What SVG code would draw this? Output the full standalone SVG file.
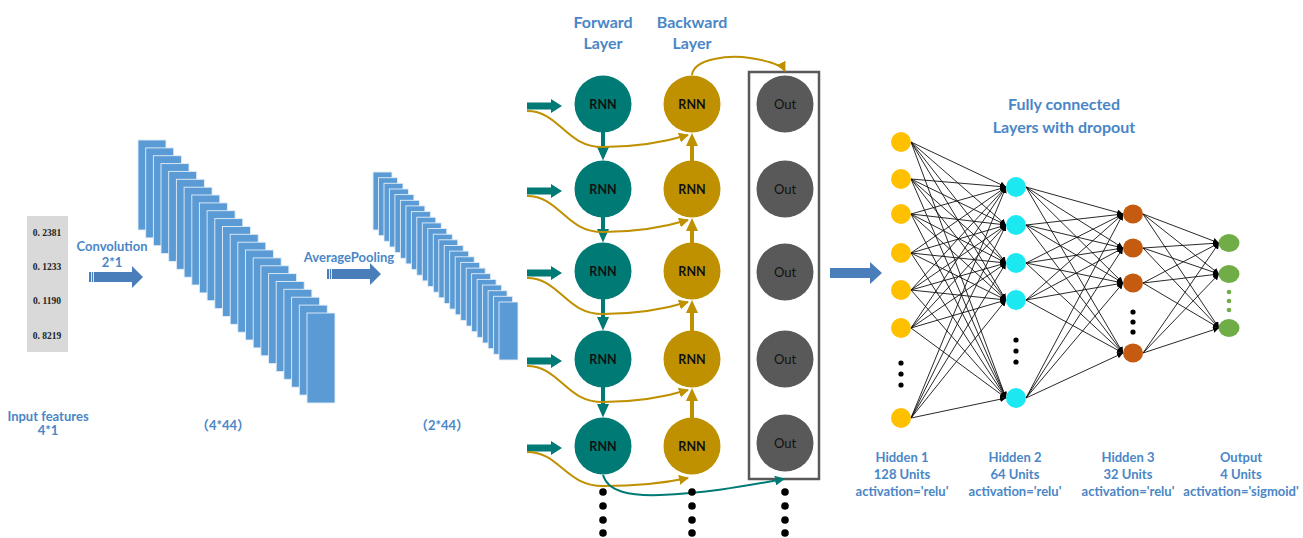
<svg xmlns="http://www.w3.org/2000/svg" width="1303" height="538" viewBox="0 0 1303 538">
<style>
.lbl{font-family:Lato,"Liberation Sans","Noto Sans CJK SC",sans-serif;font-weight:bold;fill:#4A86C6;text-anchor:middle}
.s13{font-size:13px}
.s16{font-size:16px}
.num{font-family:"Liberation Serif",serif;font-weight:bold;font-size:9.5px;fill:#222;text-anchor:middle}
.st{fill:#5B9BD5;stroke:#E3EEF8;stroke-width:0.9}
.barrow{fill:#4A7EBB}
.fw{fill:#007A74}
.bw{fill:#BF9000}
.out{fill:#595959}
.rt{font-family:Lato,"Liberation Sans",sans-serif;font-weight:bold;font-size:12.5px;fill:#111;text-anchor:middle}
.ot{font-family:Lato,"Liberation Sans",sans-serif;font-size:13px;fill:#111;text-anchor:middle}
.gc{fill:none;stroke:#BF9000;stroke-width:2}
.tc{fill:none;stroke:#007A74;stroke-width:2}
.fc line{stroke:#111;stroke-width:0.9;marker-end:url(#ab)}
.dot{fill:#000}
</style>
<defs>
<marker id="ab" viewBox="0 0 10 10" refX="10" refY="5" markerWidth="6" markerHeight="6" orient="auto" markerUnits="userSpaceOnUse"><path d="M0,0 L10,5 L0,10 z" fill="#000"/></marker>
<marker id="ag" viewBox="0 0 10 10" refX="9" refY="5" markerWidth="10" markerHeight="10" orient="auto" markerUnits="userSpaceOnUse"><path d="M0,0 L10,5 L0,10 z" fill="#BF9000"/></marker>
<marker id="at" viewBox="0 0 10 10" refX="9" refY="5" markerWidth="10" markerHeight="10" orient="auto" markerUnits="userSpaceOnUse"><path d="M0,0 L10,5 L0,10 z" fill="#007A74"/></marker>
</defs>
<rect width="1303" height="538" fill="#fff"/>

<!-- Input features -->
<g id="input-features">
<rect x="27" y="216" width="41" height="136" fill="#D9D9D9"/>
<text class="num" x="47" y="236">0. 2381</text>
<text class="num" x="47" y="270">0. 1233</text>
<text class="num" x="47" y="304">0. 1190</text>
<text class="num" x="47" y="339">0. 8219</text>
<text class="lbl s13" x="48" y="421">Input features</text>
<text class="lbl s13" x="48" y="435">4*1</text>
</g>

<g id="convolution-arrow">
<polygon class="barrow" points="89,272 132,272 132,266 143,277 132,288 132,282 89,282"/>
<line x1="91.5" y1="272" x2="91.5" y2="282" stroke="#fff" stroke-width="0.8"/>
<line x1="93.5" y1="272" x2="93.5" y2="282" stroke="#fff" stroke-width="0.8"/>
<text class="lbl s13" x="112" y="251">Convolution</text>
<text class="lbl s13" x="112" y="267">2*1</text>
</g>

<g id="conv-stack">
<rect class="st" x="138" y="140" width="28" height="90"/>
<rect class="st" x="145.7" y="147.9" width="28" height="90"/>
<rect class="st" x="153.4" y="155.7" width="28" height="90"/>
<rect class="st" x="161" y="163.6" width="28" height="90"/>
<rect class="st" x="168.7" y="171.4" width="28" height="90"/>
<rect class="st" x="176.4" y="179.3" width="28" height="90"/>
<rect class="st" x="184.1" y="187.2" width="28" height="90"/>
<rect class="st" x="191.8" y="195" width="28" height="90"/>
<rect class="st" x="199.4" y="202.9" width="28" height="90"/>
<rect class="st" x="207.1" y="210.7" width="28" height="90"/>
<rect class="st" x="214.8" y="218.6" width="28" height="90"/>
<rect class="st" x="222.5" y="226.5" width="28" height="90"/>
<rect class="st" x="230.2" y="234.3" width="28" height="90"/>
<rect class="st" x="237.8" y="242.2" width="28" height="90"/>
<rect class="st" x="245.5" y="250" width="28" height="90"/>
<rect class="st" x="253.2" y="257.9" width="28" height="90"/>
<rect class="st" x="260.9" y="265.8" width="28" height="90"/>
<rect class="st" x="268.6" y="273.6" width="28" height="90"/>
<rect class="st" x="276.2" y="281.5" width="28" height="90"/>
<rect class="st" x="283.9" y="289.3" width="28" height="90"/>
<rect class="st" x="291.6" y="297.2" width="28" height="90"/>
<rect class="st" x="299.3" y="305.1" width="28" height="90"/>
<rect class="st" x="307" y="313" width="28" height="90"/>
<text class="lbl s13" x="223" y="430">（4*44）</text>
</g>

<g id="pooling-arrow">
<polygon class="barrow" points="327,269 370,269 370,263 381,274 370,285 370,279 327,279"/>
<line x1="329.5" y1="269" x2="329.5" y2="279" stroke="#fff" stroke-width="0.8"/>
<line x1="331.5" y1="269" x2="331.5" y2="279" stroke="#fff" stroke-width="0.8"/>
<text class="lbl s13" x="349" y="262">AveragePooling</text>
</g>

<g id="pool-stack">
<rect class="st" x="373" y="172" width="19" height="58"/>
<rect class="st" x="378.5" y="177.7" width="19" height="58"/>
<rect class="st" x="384" y="183.3" width="19" height="58"/>
<rect class="st" x="389.4" y="189" width="19" height="58"/>
<rect class="st" x="394.9" y="194.6" width="19" height="58"/>
<rect class="st" x="400.4" y="200.3" width="19" height="58"/>
<rect class="st" x="405.9" y="205.9" width="19" height="58"/>
<rect class="st" x="411.4" y="211.6" width="19" height="58"/>
<rect class="st" x="416.8" y="217.2" width="19" height="58"/>
<rect class="st" x="422.3" y="222.9" width="19" height="58"/>
<rect class="st" x="427.8" y="228.5" width="19" height="58"/>
<rect class="st" x="433.3" y="234.2" width="19" height="58"/>
<rect class="st" x="438.8" y="239.8" width="19" height="58"/>
<rect class="st" x="444.2" y="245.5" width="19" height="58"/>
<rect class="st" x="449.7" y="251.1" width="19" height="58"/>
<rect class="st" x="455.2" y="256.8" width="19" height="58"/>
<rect class="st" x="460.7" y="262.4" width="19" height="58"/>
<rect class="st" x="466.2" y="268.1" width="19" height="58"/>
<rect class="st" x="471.6" y="273.7" width="19" height="58"/>
<rect class="st" x="477.1" y="279.4" width="19" height="58"/>
<rect class="st" x="482.6" y="285" width="19" height="58"/>
<rect class="st" x="488.1" y="290.7" width="19" height="58"/>
<rect class="st" x="493.6" y="296.3" width="19" height="58"/>
<rect class="st" x="499" y="302" width="19" height="58"/>
<text class="lbl s13" x="442" y="430">（2*44）</text>
</g>

<!-- RNN section -->
<g id="layer-labels">
<text class="lbl s16" x="603" y="28">Forward</text>
<text class="lbl s16" x="603" y="49">Layer</text>
<text class="lbl s16" x="692" y="28">Backward</text>
<text class="lbl s16" x="692" y="49">Layer</text>
</g>

<g id="out-box"><rect x="749" y="72" width="70" height="407" fill="none" stroke="#595959" stroke-width="2.5"/></g>

<g id="fwd-1"><circle class="fw" cx="603" cy="104" r="28.5"/><text class="rt" x="603" y="108.5">RNN</text></g>
<g id="fwd-2"><circle class="fw" cx="603" cy="189" r="28.5"/><text class="rt" x="603" y="193.5">RNN</text></g>
<g id="fwd-3"><circle class="fw" cx="603" cy="271" r="28.5"/><text class="rt" x="603" y="275.5">RNN</text></g>
<g id="fwd-4"><circle class="fw" cx="603" cy="359" r="28.5"/><text class="rt" x="603" y="363.5">RNN</text></g>
<g id="fwd-5"><circle class="fw" cx="603" cy="446" r="28.5"/><text class="rt" x="603" y="450.5">RNN</text></g>

<g id="bwd-1"><circle class="bw" cx="692" cy="104" r="28.5"/><text class="rt" x="692" y="108.5">RNN</text></g>
<g id="bwd-2"><circle class="bw" cx="692" cy="189" r="28.5"/><text class="rt" x="692" y="193.5">RNN</text></g>
<g id="bwd-3"><circle class="bw" cx="692" cy="271" r="28.5"/><text class="rt" x="692" y="275.5">RNN</text></g>
<g id="bwd-4"><circle class="bw" cx="692" cy="359" r="28.5"/><text class="rt" x="692" y="363.5">RNN</text></g>
<g id="bwd-5"><circle class="bw" cx="692" cy="446" r="28.5"/><text class="rt" x="692" y="450.5">RNN</text></g>

<g id="out-1"><circle class="out" cx="785" cy="104" r="28.5"/><text class="ot" x="785" y="108.5">Out</text></g>
<g id="out-2"><circle class="out" cx="785" cy="189" r="28.5"/><text class="ot" x="785" y="193.5">Out</text></g>
<g id="out-3"><circle class="out" cx="785" cy="272" r="28.5"/><text class="ot" x="785" y="276.5">Out</text></g>
<g id="out-4"><circle class="out" cx="785" cy="359" r="28.5"/><text class="ot" x="785" y="363.5">Out</text></g>
<g id="out-5"><circle class="out" cx="785" cy="443" r="28.5"/><text class="ot" x="785" y="447.5">Out</text></g>

<g id="rnn-connectors">
<!-- input arrows -->
<polygon class="fw" points="527,102.5 551,102.5 551,99 562,106 551,113 551,109.5 527,109.5"/>
<polygon class="fw" points="527,187.5 551,187.5 551,184 562,191 551,198 551,194.5 527,194.5"/>
<polygon class="fw" points="527,269.5 551,269.5 551,266 562,273 551,280 551,276.5 527,276.5"/>
<polygon class="fw" points="527,357.5 551,357.5 551,354 562,361 551,368 551,364.5 527,364.5"/>
<polygon class="fw" points="527,444.5 551,444.5 551,441 562,448 551,455 551,451.5 527,451.5"/>
<!-- forward arrows -->
<polygon class="fw" points="601,132 605,132 605,147 609,147 603,160.5 597,147 601,147"/>
<polygon class="fw" points="601,217 605,217 605,229 609,229 603,242.5 597,229 601,229"/>
<polygon class="fw" points="601,299 605,299 605,317 609,317 603,330.5 597,317 601,317"/>
<polygon class="fw" points="601,387 605,387 605,404 609,404 603,417.5 597,404 601,404"/>
<!-- backward arrows -->
<polygon class="bw" points="690,161 694,161 694,146 698,146 692,133 686,146 690,146"/>
<polygon class="bw" points="690,243 694,243 694,231 698,231 692,218 686,231 690,231"/>
<polygon class="bw" points="690,331 694,331 694,313 698,313 692,300 686,313 690,313"/>
<polygon class="bw" points="690,418 694,418 694,401 698,401 692,388 686,401 690,401"/>
<!-- gold curves -->
<path class="gc" marker-end="url(#ag)" d="M527,111 C560,111 565,147 603,147 C640,147 665,142 688,135"/>
<path class="gc" marker-end="url(#ag)" d="M527,196 C560,196 565,232 603,232 C640,232 665,227 688,220"/>
<path class="gc" marker-end="url(#ag)" d="M527,278 C560,278 565,314 603,314 C640,314 665,309 688,302"/>
<path class="gc" marker-end="url(#ag)" d="M527,366 C560,366 565,402 603,402 C640,402 665,397 688,390"/>
<path class="gc" marker-end="url(#ag)" d="M527,452 C560,452 565,486 603,486 C640,486 665,483 688,478"/>
<path class="gc" marker-end="url(#ag)" d="M692,75 C694,58 730,55 750,58 C770,61 782,65 785,71"/>
<path class="tc" marker-end="url(#at)" d="M603,475 C608,492 630,496 660,495 C710,493 750,485 784,479"/>
</g>

<g id="continuation-dots">
<circle class="dot" cx="603" cy="492" r="3.8"/><circle class="dot" cx="603" cy="506" r="3.8"/><circle class="dot" cx="603" cy="520" r="3.8"/><circle class="dot" cx="603" cy="533" r="3.8"/>
<circle class="dot" cx="692" cy="492" r="3.8"/><circle class="dot" cx="692" cy="506" r="3.8"/><circle class="dot" cx="692" cy="520" r="3.8"/><circle class="dot" cx="692" cy="533" r="3.8"/>
<circle class="dot" cx="785" cy="492" r="3.8"/><circle class="dot" cx="785" cy="506" r="3.8"/><circle class="dot" cx="785" cy="520" r="3.8"/><circle class="dot" cx="785" cy="533" r="3.8"/>
</g>

<g id="fc-arrow"><polygon class="barrow" points="830,268 870,268 870,262 882,273 870,284 870,278 830,278"/></g>

<g id="fc-title">
<text class="lbl s16" x="1064" y="110">Fully connected</text>
<text class="lbl s16" x="1064" y="133">Layers with dropout</text>
</g>

<g id="fc-connectors" class="fc">
<line x1="911" y1="142" x2="1006" y2="187"/><line x1="911" y1="142" x2="1006" y2="225"/><line x1="911" y1="142" x2="1006" y2="263"/><line x1="911" y1="142" x2="1006" y2="300"/><line x1="911" y1="142" x2="1006" y2="398"/>
<line x1="911" y1="179" x2="1006" y2="187"/><line x1="911" y1="179" x2="1006" y2="225"/><line x1="911" y1="179" x2="1006" y2="263"/><line x1="911" y1="179" x2="1006" y2="300"/><line x1="911" y1="179" x2="1006" y2="398"/>
<line x1="911" y1="214" x2="1006" y2="187"/><line x1="911" y1="214" x2="1006" y2="225"/><line x1="911" y1="214" x2="1006" y2="263"/><line x1="911" y1="214" x2="1006" y2="300"/><line x1="911" y1="214" x2="1006" y2="398"/>
<line x1="911" y1="253" x2="1006" y2="187"/><line x1="911" y1="253" x2="1006" y2="225"/><line x1="911" y1="253" x2="1006" y2="263"/><line x1="911" y1="253" x2="1006" y2="300"/><line x1="911" y1="253" x2="1006" y2="398"/>
<line x1="911" y1="290" x2="1006" y2="187"/><line x1="911" y1="290" x2="1006" y2="225"/><line x1="911" y1="290" x2="1006" y2="263"/><line x1="911" y1="290" x2="1006" y2="300"/><line x1="911" y1="290" x2="1006" y2="398"/>
<line x1="911" y1="328" x2="1006" y2="187"/><line x1="911" y1="328" x2="1006" y2="225"/><line x1="911" y1="328" x2="1006" y2="263"/><line x1="911" y1="328" x2="1006" y2="300"/><line x1="911" y1="328" x2="1006" y2="398"/>
<line x1="911" y1="418" x2="1006" y2="187"/><line x1="911" y1="418" x2="1006" y2="225"/><line x1="911" y1="418" x2="1006" y2="263"/><line x1="911" y1="418" x2="1006" y2="300"/><line x1="911" y1="418" x2="1006" y2="398"/>

<line x1="1026" y1="187" x2="1123" y2="214"/><line x1="1026" y1="187" x2="1123" y2="248"/><line x1="1026" y1="187" x2="1123" y2="283"/><line x1="1026" y1="187" x2="1123" y2="353"/>
<line x1="1026" y1="225" x2="1123" y2="214"/><line x1="1026" y1="225" x2="1123" y2="248"/><line x1="1026" y1="225" x2="1123" y2="283"/><line x1="1026" y1="225" x2="1123" y2="353"/>
<line x1="1026" y1="263" x2="1123" y2="214"/><line x1="1026" y1="263" x2="1123" y2="248"/><line x1="1026" y1="263" x2="1123" y2="283"/><line x1="1026" y1="263" x2="1123" y2="353"/>
<line x1="1026" y1="300" x2="1123" y2="214"/><line x1="1026" y1="300" x2="1123" y2="248"/><line x1="1026" y1="300" x2="1123" y2="283"/><line x1="1026" y1="300" x2="1123" y2="353"/>
<line x1="1026" y1="398" x2="1123" y2="214"/><line x1="1026" y1="398" x2="1123" y2="248"/><line x1="1026" y1="398" x2="1123" y2="283"/><line x1="1026" y1="398" x2="1123" y2="353"/>

<line x1="1143" y1="214" x2="1219" y2="243"/><line x1="1143" y1="214" x2="1219" y2="274"/><line x1="1143" y1="214" x2="1219" y2="328"/>
<line x1="1143" y1="248" x2="1219" y2="243"/><line x1="1143" y1="248" x2="1219" y2="274"/><line x1="1143" y1="248" x2="1219" y2="328"/>
<line x1="1143" y1="283" x2="1219" y2="243"/><line x1="1143" y1="283" x2="1219" y2="274"/><line x1="1143" y1="283" x2="1219" y2="328"/>
<line x1="1143" y1="353" x2="1219" y2="243"/><line x1="1143" y1="353" x2="1219" y2="274"/><line x1="1143" y1="353" x2="1219" y2="328"/>
</g>

<g id="hidden-1">
<circle cx="901" cy="142" r="10" fill="#FFC000"/><circle cx="901" cy="179" r="10" fill="#FFC000"/><circle cx="901" cy="214" r="10" fill="#FFC000"/><circle cx="901" cy="253" r="10" fill="#FFC000"/><circle cx="901" cy="290" r="10" fill="#FFC000"/><circle cx="901" cy="328" r="10" fill="#FFC000"/><circle cx="901" cy="418" r="10" fill="#FFC000"/>
<circle class="dot" cx="901" cy="363" r="2.6"/><circle class="dot" cx="901" cy="374" r="2.6"/><circle class="dot" cx="901" cy="385" r="2.6"/>
<text class="lbl s13" x="902" y="462">Hidden 1</text>
<text class="lbl s13" x="902" y="479">128 Units</text>
<text class="lbl s13" x="902" y="496">activation='relu'</text>
</g>
<g id="hidden-2">
<circle cx="1016" cy="187" r="10" fill="#1CE8F2"/><circle cx="1016" cy="225" r="10" fill="#1CE8F2"/><circle cx="1016" cy="263" r="10" fill="#1CE8F2"/><circle cx="1016" cy="300" r="10" fill="#1CE8F2"/><circle cx="1016" cy="398" r="10" fill="#1CE8F2"/>
<circle class="dot" cx="1016" cy="340" r="2.6"/><circle class="dot" cx="1016" cy="351" r="2.6"/><circle class="dot" cx="1016" cy="362" r="2.6"/>
<text class="lbl s13" x="1015" y="462">Hidden 2</text>
<text class="lbl s13" x="1015" y="479">64 Units</text>
<text class="lbl s13" x="1015" y="496">activation='relu'</text>
</g>
<g id="hidden-3">
<ellipse cx="1133" cy="214" rx="10" ry="9.5" fill="#C55A11"/><ellipse cx="1133" cy="248" rx="10" ry="9.5" fill="#C55A11"/><ellipse cx="1133" cy="283" rx="10" ry="9.5" fill="#C55A11"/><ellipse cx="1133" cy="353" rx="10" ry="9.5" fill="#C55A11"/>
<circle class="dot" cx="1133" cy="312" r="2.6"/><circle class="dot" cx="1133" cy="322" r="2.6"/><circle class="dot" cx="1133" cy="332" r="2.6"/>
<text class="lbl s13" x="1128" y="462">Hidden 3</text>
<text class="lbl s13" x="1128" y="479">32 Units</text>
<text class="lbl s13" x="1128" y="496">activation='relu'</text>
</g>
<g id="output">
<ellipse cx="1229" cy="243" rx="10.5" ry="9" fill="#70AD47"/><ellipse cx="1229" cy="274" rx="10.5" ry="9" fill="#70AD47"/><ellipse cx="1229" cy="328" rx="10.5" ry="9" fill="#70AD47"/>
<circle cx="1229" cy="292" r="2.3" fill="#70AD47"/><circle cx="1229" cy="301" r="2.3" fill="#70AD47"/><circle cx="1229" cy="310" r="2.3" fill="#70AD47"/>
<text class="lbl s13" x="1241" y="462">Output</text>
<text class="lbl s13" x="1241" y="479">4 Units</text>
<text class="lbl s13" x="1241" y="496">activation='sigmoid'</text>
</g>
</svg>
